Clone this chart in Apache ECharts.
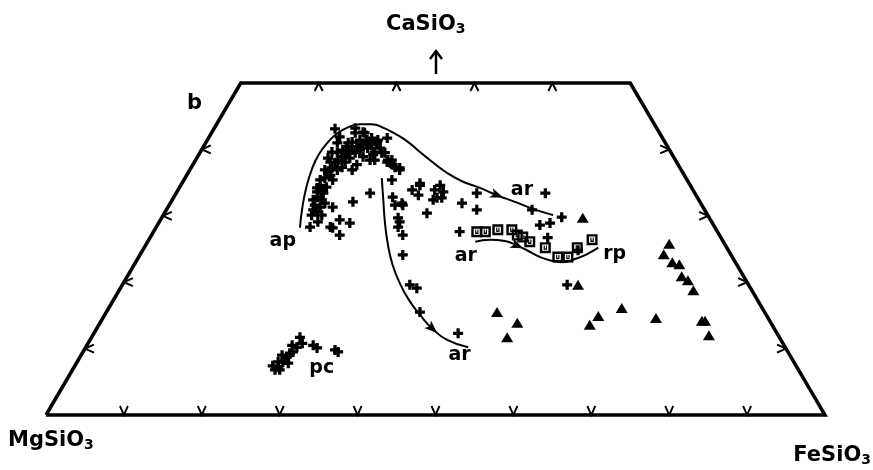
<!DOCTYPE html>
<html>
<head>
<meta charset="utf-8">
<script src="https://cdn.jsdelivr.net/npm/echarts@6/dist/echarts.min.js"></script>
<style>
  html, body { margin: 0; padding: 0; background: #fff; }
  #chart { width: 873px; height: 470px; }
</style>
</head>
<body>
<div id="chart"></div>
<script>
// x = position along the MgSiO3 - FeSiO3 base (0..100), y = CaSiO3 (0..50)
var outline = [[0, 0], [25, 50], [75, 50], [100, 0], [0, 0]];
var baseTicks = [10, 20, 30, 40, 50, 60, 70, 80, 90];
var topTicks = [35, 45, 55, 65];
var sideTicks = [10, 20, 30, 40];

// crosses, main trend
var crosses = [
  [37.1, 43.1], [39.7, 43.2], [39.7, 42.5], [40.7, 42.6], [40.9, 42.5], [41.2, 41.4],
  [41.8, 41.7], [42.5, 41.0], [43.8, 41.7], [37.7, 41.9], [37.4, 41.0], [38.8, 41.0],
  [39.3, 41.1], [41.2, 41.0], [38.1, 39.9], [38.6, 40.4], [36.7, 39.6], [37.4, 39.5],
  [36.2, 38.7], [36.5, 38.1], [39.7, 39.5], [40.3, 39.9], [41.3, 40.2], [42.2, 39.6],
  [43.5, 39.5], [42.0, 39.2], [43.1, 39.5], [42.2, 38.4], [40.7, 38.9], [41.6, 38.4],
  [43.9, 38.4], [43.8, 38.1], [44.4, 38.4], [44.5, 37.7], [44.8, 37.3], [45.4, 36.9],
  [39.9, 37.7], [39.3, 36.9], [38.0, 37.3], [35.8, 36.9], [35.2, 35.4], [36.8, 35.4],
  [34.8, 34.2], [35.6, 33.4], [34.8, 33.6], [34.3, 32.4], [35.4, 32.4], [35.8, 31.9],
  [35.2, 31.3], [36.8, 31.3], [34.1, 30.1], [34.8, 30.6], [35.4, 30.1], [34.9, 29.1],
  [33.9, 28.3], [36.5, 28.3], [37.7, 29.4], [39.0, 28.9], [36.8, 28.2], [37.7, 27.1],
  [39.4, 32.1], [41.6, 33.4], [44.4, 35.4], [44.5, 32.8], [44.8, 31.6], [45.8, 31.6],
  [45.2, 29.7], [45.4, 29.1], [45.2, 28.3], [45.8, 27.1], [47.0, 33.9], [48.0, 34.6],
  [47.8, 33.1], [48.9, 30.4], [49.9, 33.9], [50.2, 32.7], [44.2, 38.0], [45.4, 37.2],
  [48.0, 34.9], [50.6, 34.6], [51.0, 33.6], [49.7, 32.4], [50.8, 32.7], [45.7, 31.9],
  [53.4, 31.9], [55.3, 33.4], [55.3, 30.9], [53.1, 27.6], [64.1, 33.4], [62.4, 30.9],
  [63.4, 28.6], [64.7, 28.9], [64.4, 26.7], [66.2, 29.8], [45.8, 24.1], [46.7, 19.6],
  [47.6, 19.1], [48.0, 15.5], [52.9, 12.3], [66.9, 19.6], [68.3, 24.8],
  [35.2, 34.6], [35.8, 35.7], [36.2, 36.6], [36.7, 37.2], [37.1, 38.0], [37.5, 38.4],
  [38.0, 38.9], [38.4, 39.2], [38.8, 39.6], [39.3, 39.9], [39.9, 40.4], [40.6, 40.7],
  [37.4, 36.9], [36.5, 36.1], [38.4, 38.1], [39.0, 38.7], [35.4, 33.9], [34.9, 32.8],
  [36.0, 34.3], [34.5, 31.6], [34.3, 30.9], [41.8, 40.7], [42.9, 40.2], [42.6, 41.4],
  [40.3, 41.4]
];
// crosses, pc group
var pcCrosses = [
  [32.6, 11.7], [32.9, 10.8], [32.2, 10.2], [34.3, 10.5], [34.8, 10.1], [37.1, 9.8],
  [37.5, 9.5], [31.3, 9.3], [30.9, 8.7], [30.4, 8.0], [29.8, 7.2], [29.4, 6.8],
  [31.7, 9.5], [30.3, 9.0], [31.1, 7.8], [30.0, 6.8], [30.7, 8.3], [31.6, 10.5],
  [29.8, 8.0], [29.1, 7.4]
];
var squares = [
  [55.3, 27.6], [56.4, 27.6], [58.0, 27.9], [59.8, 27.9], [60.5, 27.1], [61.2, 26.8],
  [62.1, 26.1], [64.1, 25.2], [65.7, 23.8], [67.0, 23.8], [68.2, 25.2], [70.1, 26.4]
];
var triangles = [
  [68.9, 29.7], [57.9, 15.5], [60.5, 13.9], [59.2, 11.7], [68.3, 19.6], [70.9, 14.9],
  [69.8, 13.6], [73.9, 16.1], [78.3, 14.6], [80.0, 25.8], [79.3, 24.2], [80.4, 23.0],
  [81.3, 22.7], [81.6, 20.9], [82.4, 20.3], [83.1, 18.8], [84.2, 14.2], [84.6, 14.2],
  [85.1, 12.0]
];

// trend curves
var curveAp = [[32.6, 28.2], [32.9, 31.2], [33.4, 34.2], [34.1, 36.9], [35.0, 39.2],
  [36.2, 41.1], [37.5, 42.5], [38.9, 43.4], [40.3, 43.8], [41.8, 43.8], [43.4, 43.2],
  [44.9, 42.3], [46.5, 41.1], [48.0, 39.6], [49.6, 38.1], [51.3, 36.6], [53.4, 35.2],
  [55.7, 34.2], [57.9, 33.1], [60.2, 32.1], [62.6, 31.0], [65.1, 30.1]];
var curveAr = [[43.1, 35.7], [43.3, 32.4], [43.5, 29.1], [43.9, 25.6], [44.5, 22.6],
  [45.4, 19.9], [46.6, 17.3], [48.0, 15.1], [49.6, 13.0], [51.5, 11.3], [54.2, 10.2]];
var curveRp = [[55.1, 26.1], [57.0, 26.4], [58.9, 26.2], [60.5, 25.5], [61.9, 24.7],
  [63.4, 23.8], [65.0, 23.2], [66.4, 23.0], [67.9, 23.5], [69.4, 24.2], [70.9, 25.2]];
// arrowheads sit on these curve vertices
var arrowAt = [[curveAp, 18], [curveAr, 8], [curveRp, 3]];

var labels = [
  ['ap', 30.4, 26.2], ['ar', 61.1, 33.9], ['ar', 53.1, 9.0], ['ar', 53.9, 23.9],
  ['rp', 73.0, 24.2], ['pc', 35.4, 7.1]
];

var FONT = 'DejaVu Sans';
var crossPath = 'path://M2.7,0H5.3V2.7H8V5.3H5.3V8H2.7V5.3H0V2.7H2.7Z';
var squarePath = 'path://M0,0H10V10H0Z M2.2,2.2V7.8H7.8V2.2Z M3.5,3V7H6.5V3H5.5V5.8H4.5V3Z';
var arrowPath = 'path://M0,0L12,5L0,10L3,5Z';

function tickSeries(data, path, size, offset) {
  return {
    type: 'scatter', data: data, symbol: path, symbolSize: size, symbolOffset: offset,
    clip: false, silent: true,
    itemStyle: { color: 'rgba(0,0,0,0)', borderColor: '#000', borderWidth: 2, opacity: 1 }
  };
}

function curveSeries(data) {
  return {
    type: 'line', data: data, smooth: 0.5, symbol: 'none', clip: false, silent: true,
    lineStyle: { color: '#000', width: 2 }
  };
}

function markSeries(data, symbol, size) {
  return {
    type: 'scatter', data: data, symbol: symbol, symbolSize: size,
    clip: false, silent: true, itemStyle: { color: '#000', opacity: 1 }
  };
}

var chart = echarts.init(document.getElementById('chart'));
var rich = {
  a: { fontFamily: FONT, fontSize: 21, fontWeight: 'bold', color: '#000' },
  s: { fontFamily: FONT, fontSize: 14, fontWeight: 'bold', color: '#000', padding: [10, 0, 0, 0] }
};
var option = {
  animation: false,
  grid: { left: 46, right: 48, top: 83, bottom: 55 },
  xAxis: { type: 'value', min: 0, max: 100, show: false },
  yAxis: { type: 'value', min: 0, max: 50, show: false },
  graphic: [
    { type: 'text', left: 386, top: 14, style: { text: '{a|CaSiO}{s|3}', rich: rich } },
    { type: 'line', shape: { x1: 436, y1: 74, x2: 436, y2: 52 }, style: { stroke: '#000', lineWidth: 2.5 } },
    { type: 'polyline', shape: { points: [[430, 59], [436, 51], [442, 59]] }, style: { stroke: '#000', lineWidth: 2.5, fill: null } },
    { type: 'text', left: 8, top: 430, style: { text: '{a|MgSiO}{s|3}', rich: rich } },
    { type: 'text', right: 2, top: 445, style: { text: '{a|FeSiO}{s|3}', rich: rich } },
    { type: 'text', left: 187, top: 93, style: { text: 'b', fill: '#000',
      fontFamily: FONT, fontSize: 21, fontWeight: 'bold' } }
  ],
  series: [
    { type: 'line', data: outline, symbol: 'none', clip: false, silent: true,
      lineStyle: { color: '#000', width: 3.5, join: 'miter' } },
    tickSeries(baseTicks.map(function (v) { return [v, 0]; }), 'path://M0,0L5,9L10,0', [8, 9], [0, -4.5]),
    tickSeries(topTicks.map(function (v) { return [v, 50]; }), 'path://M0,9L5,0L10,9', [8, 8], [0, 4]),
    tickSeries(sideTicks.map(function (w) { return [w / 2, w]; }), 'path://M9,0L0,5L9,10', [9, 8], [4.5, 0]),
    tickSeries(sideTicks.map(function (w) { return [100 - w / 2, w]; }), 'path://M0,0L9,5L0,10', [9, 8], [-4.5, 0]),
    curveSeries(curveAp),
    curveSeries(curveAr),
    curveSeries(curveRp),
    markSeries(crosses.concat(pcCrosses), crossPath, 10),
    markSeries(squares, squarePath, 11),
    markSeries(triangles, 'triangle', [12, 10]),
    { type: 'scatter', symbol: 'circle', symbolSize: 1, clip: false, silent: true,
      itemStyle: { color: 'rgba(0,0,0,0)', opacity: 1 },
      data: labels.map(function (l) { return { name: l[0], value: [l[1], l[2]] }; }),
      label: { show: true, position: 'inside', formatter: '{b}', color: '#000',
               fontFamily: FONT, fontSize: 19, fontWeight: 'bold' } }
  ]
};
chart.setOption(option);

// orient the arrowheads along their curves
var arrowData = arrowAt.map(function (a) {
  var c = a[0], i = a[1];
  var p0 = chart.convertToPixel({ gridIndex: 0 }, c[i - 1]);
  var p1 = chart.convertToPixel({ gridIndex: 0 }, c[i + 1]);
  var ang = Math.atan2(p1[1] - p0[1], p1[0] - p0[0]) * 180 / Math.PI;
  return { value: c[i], symbolRotate: -ang };
});
option.series.push(markSeries(arrowData, arrowPath, [13, 10]));
chart.setOption(option);
</script>
</body>
</html>
